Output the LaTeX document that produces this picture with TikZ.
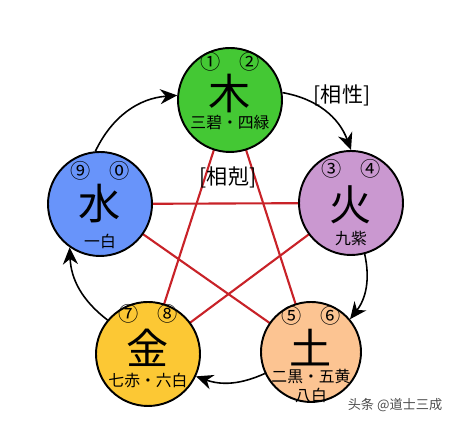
\documentclass[tikz,border=0pt]{standalone}
\usepackage{fontspec}
\usepackage{tikz}
\usetikzlibrary{arrows.meta, positioning, calc, backgrounds}
\newfontfamily\jpfont{Noto Sans CJK JP}
\newfontfamily\scfont{Noto Sans CJK SC}
\definecolor{woodgreen}{RGB}{68, 200, 52}
\definecolor{firepurple}{RGB}{202, 152, 208}
\definecolor{earthpeach}{RGB}{252, 196, 146}
\definecolor{metalyellow}{RGB}{252, 200, 52}
\definecolor{waterblue}{RGB}{104, 148, 250}
\definecolor{starred}{RGB}{200, 34, 40}

\begin{document}
\begin{tikzpicture}[
    element/.style={circle, draw=black, line width=1.1pt, minimum size=2.08cm, inner sep=0pt},
    bigchar/.style={font=\jpfont\fontsize{24}{24}\selectfont, inner sep=0pt},
    digits/.style={font=\jpfont\fontsize{11.5}{11.5}\selectfont, inner sep=0pt},
    stars/.style={font=\jpfont\fontsize{9}{10.5}\selectfont, inner sep=0pt, align=center},
    tag/.style={font=\jpfont\fontsize{12}{12}\selectfont},
    cycle/.style={line width=0.9pt, -{Stealth[length=3.4mm, width=3mm]}},
    overcome/.style={draw=starred, line width=1.2pt}
]
\useasboundingbox (0,0) rectangle (9,8.5);

% Five elements
\node[element, fill=woodgreen] (wood) at (4.6, 6.5) {};
\node[element, fill=firepurple] (fire) at (7.02, 4.44) {};
\node[element, fill=earthpeach, minimum size=2.0cm] (earth) at (6.22, 1.46) {};
\node[element, fill=metalyellow] (metal) at (2.96, 1.42) {};
\node[element, fill=waterblue] (water) at (2.0, 4.42) {};

% Star of mutual overcoming, behind the circles
\begin{pgfonlayer}{background}
\draw[overcome] (wood.center) -- (earth.center);
\draw[overcome] (wood.center) -- (metal.center);
\draw[overcome] (fire.center) -- (water.center);
\draw[overcome] (fire.center) -- (metal.center);
\draw[overcome] (water.center) -- (earth.center);
\end{pgfonlayer}

% Wood
\node[digits] (wood_num) at ($(wood)+(0,0.76)$) {①\hspace{0.38cm}②};
\node[bigchar] (wood_char) at ($(wood)+(0,0.13)$) {木};
\node[stars] (wood_star) at ($(wood)+(0,-0.46)$) {三碧・四緑};

% Fire
\node[digits] (fire_num) at ($(fire)+(0,0.68)$) {③\hspace{0.38cm}④};
\node[bigchar] (fire_char) at ($(fire)+(0,-0.03)$) {火};
\node[stars] (fire_star) at ($(fire)+(0,-0.72)$) {九紫};

% Earth
\node[digits] (earth_num) at ($(earth)+(0,0.72)$) {⑤\hspace{0.38cm}⑥};
\node[bigchar] (earth_char) at ($(earth)+(0,0.08)$) {土};
\node[stars] (earth_star) at ($(earth)+(0,-0.68)$) {二黒・五黄\\八白};

% Metal
\node[digits] (metal_num) at ($(metal)+(0,0.8)$) {⑦\hspace{0.38cm}⑧};
\node[bigchar] (metal_char) at ($(metal)+(0,0.12)$) {金};
\node[stars] (metal_star) at ($(metal)+(0,-0.54)$) {七赤・六白};

% Water
\node[digits] (water_num) at ($(water)+(0,0.66)$) {⑨\hspace{0.38cm}⓪};
\node[bigchar] (water_char) at ($(water)+(0,0.0)$) {水};
\node[stars] (water_star) at ($(water)+(0,-0.74)$) {一白};

% Generating cycle
\draw[cycle] (wood.8) to[bend left=30] (fire.90);
\draw[cycle] (fire.-75) to[bend left=25] (earth.40);
\draw[cycle] (earth.205) to[bend left=22] (metal.-25);
\draw[cycle] (metal.140) to[bend left=25] (water.-125);
\draw[cycle] (water.95) to[bend left=30] (wood.175);

% Labels
\node[tag] (gen_label) at (6.84, 6.6) {[相性]};
\node[tag] (ctrl_label) at (4.56, 4.96) {[相剋]};

% Watermark
\node[font=\scfont\fontsize{7.5}{7.5}\selectfont, text=black!70] (mark) at (7.9, 0.4) {头条 @道士三成};

\end{tikzpicture}
\end{document}
